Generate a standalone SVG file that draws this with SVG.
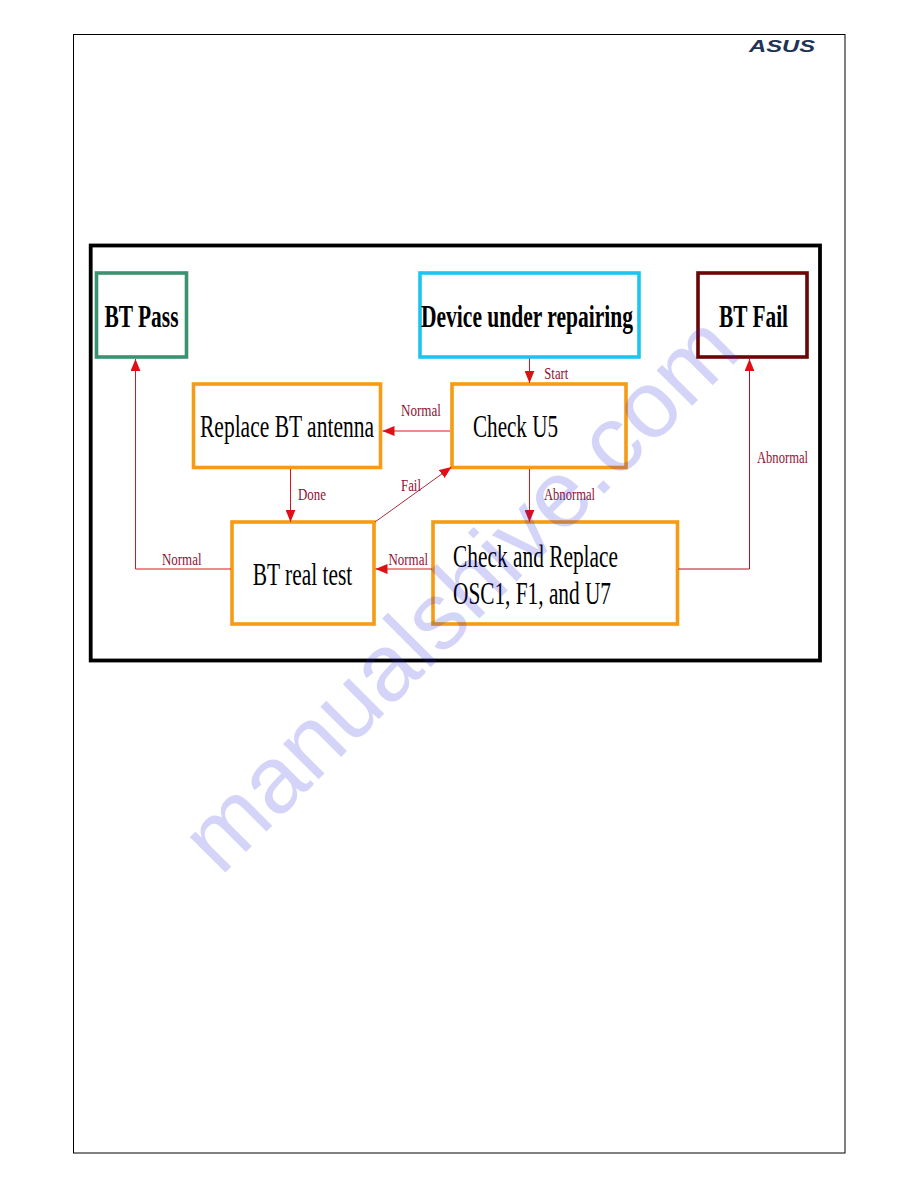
<svg xmlns="http://www.w3.org/2000/svg" width="918" height="1188" viewBox="0 0 918 1188">
<style>
.box{fill:#fff;stroke-width:3.6}
.t{font-family:"Liberation Serif","Times New Roman",serif;fill:#000}
.big{font-size:31px}
.b{font-weight:bold}
.lb{font-family:"Liberation Serif","Times New Roman",serif;font-size:16.5px;fill:#8f1235}
.ln{fill:none;stroke:#d81818;stroke-width:1}
.or{stroke:#f59c14}
</style>
<defs>
<marker id="ah" markerUnits="userSpaceOnUse" markerWidth="12" markerHeight="10" refX="11" refY="4.5" orient="auto" viewBox="0 0 11 9"><path d="M0 0L11 4.5L0 9Z" fill="#e00f16"/></marker>
</defs>
<rect width="918" height="1188" fill="#fff"/>
<rect id="page" x="73.5" y="34.5" width="771.5" height="1118.5" fill="none" stroke="#000" stroke-width="1"/>
<text id="logo" x="749" y="52" font-family="Liberation Sans,Arial,sans-serif" font-weight="bold" font-style="italic" font-size="17" fill="#1f3355" textLength="66" lengthAdjust="spacingAndGlyphs">ASUS</text>
<rect id="frame" x="90.7" y="245.5" width="729.3" height="415" fill="none" stroke="#000" stroke-width="3.8"/>
<g id="n-pass"><rect class="box" x="96.5" y="273" width="90" height="84" stroke="#3b9270"/><text class="t big b" x="104.5" y="326.7" textLength="74" lengthAdjust="spacingAndGlyphs">BT Pass</text></g>
<g id="n-device"><rect class="box" x="420" y="273" width="219" height="84" stroke="#1cc5f0"/><text class="t big b" x="421" y="326.7" textLength="212" lengthAdjust="spacingAndGlyphs">Device under repairing</text></g>
<g id="n-fail"><rect class="box" x="698" y="273" width="109" height="84" stroke="#6b0606"/><text class="t big b" x="719" y="326.7" textLength="69" lengthAdjust="spacingAndGlyphs">BT Fail</text></g>
<g id="n-replace"><rect class="box or" x="193.5" y="384" width="187" height="83.5"/><text class="t big" x="200" y="436.7" textLength="174" lengthAdjust="spacingAndGlyphs">Replace BT antenna</text></g>
<g id="n-u5"><rect class="box or" x="452" y="384" width="174" height="83.5"/><text class="t big" x="473" y="436.7" textLength="85" lengthAdjust="spacingAndGlyphs">Check U5</text></g>
<g id="n-real"><rect class="box or" x="232" y="522" width="142" height="102"/><text class="t big" x="252.7" y="585" textLength="99.5" lengthAdjust="spacingAndGlyphs">BT real test</text></g>
<g id="n-osc"><rect class="box or" x="433" y="522" width="244.5" height="102"/><text class="t big" x="453" y="566.7" textLength="165" lengthAdjust="spacingAndGlyphs">Check and Replace</text><text class="t big" x="453" y="604" textLength="158" lengthAdjust="spacingAndGlyphs">OSC1, F1, and U7</text></g>
<g id="connectors">
<path class="ln" marker-end="url(#ah)" d="M529.5 358.5V383"/>
<path class="ln" marker-end="url(#ah)" d="M450 431H382.5"/>
<path class="ln" marker-end="url(#ah)" d="M290.5 469V522"/>
<path class="ln" marker-end="url(#ah)" d="M529.5 469V522"/>
<path class="ln" marker-end="url(#ah)" d="M375 522L451.5 467" style="stroke:#a01428;stroke-width:.9"/>
<path class="ln" marker-end="url(#ah)" d="M231 569H135.5V359"/>
<path class="ln" marker-end="url(#ah)" d="M432 569H375.5"/>
<path class="ln" marker-end="url(#ah)" d="M678.5 569H749.5V359" style="stroke:#b01020"/>
<text class="lb" x="544.3" y="379" textLength="24" lengthAdjust="spacingAndGlyphs">Start</text>
<text class="lb" x="401" y="416" textLength="40" lengthAdjust="spacingAndGlyphs">Normal</text>
<text class="lb" x="298" y="500" textLength="28" lengthAdjust="spacingAndGlyphs">Done</text>
<text class="lb" x="401" y="490.5" textLength="20" lengthAdjust="spacingAndGlyphs">Fail</text>
<text class="lb" x="162" y="565" textLength="39.5" lengthAdjust="spacingAndGlyphs">Normal</text>
<text class="lb" x="388.5" y="565" textLength="39.5" lengthAdjust="spacingAndGlyphs">Normal</text>
<text class="lb" x="544" y="500" textLength="51" lengthAdjust="spacingAndGlyphs">Abnormal</text>
<text class="lb" x="757" y="463" textLength="51" lengthAdjust="spacingAndGlyphs">Abnormal</text>
</g>
<text id="watermark" transform="translate(220.8 877.2) rotate(-45)" font-family="Liberation Sans,Arial,sans-serif" font-size="95" fill="#2a2ae0" fill-opacity="0.2">manualshive.com</text>
</svg>
